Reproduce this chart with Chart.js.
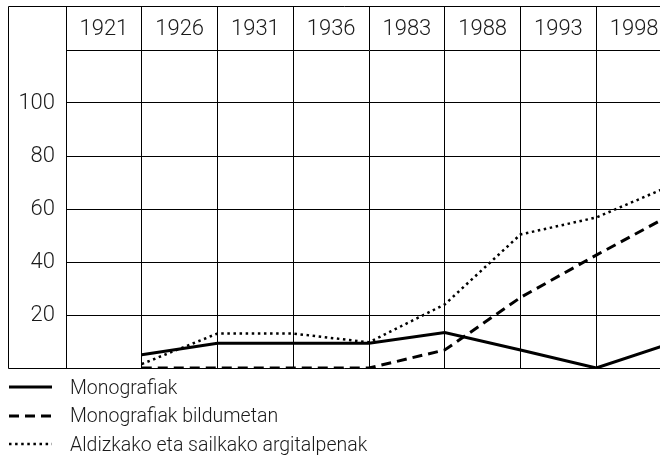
<!DOCTYPE html>
<html lang="eu">
<head>
<meta charset="UTF-8">
<script src="https://cdn.jsdelivr.net/npm/chart.js"></script>
<style>
  html, body { margin: 0; padding: 0; background: #fff; overflow: hidden; }
  #wrap { position: relative; width: 680px; height: 456px; }
  #legend { position: absolute; left: 9px; top: 373px; font-family: Roboto, "Liberation Sans", sans-serif; font-weight: 300; font-size: 19.5px; color: #1a1a1a; }
  .row { display: flex; align-items: center; height: 28.5px; }
</style>
</head>
<body>
<div id="wrap">
  <canvas id="c" width="680" height="456"></canvas>
  <div id="legend"></div>
</div>
<script>
// years shown in the header row
const years = ['1921', '1926', '1931', '1936', '1983', '1988', '1993', '1998'];
// series, one value per year
const monografiak = [5, 9.3, 9.3, 9.3, 13.4, 6.8, 0, 9.5];
const bildumetan = [0, 0, 0, 0, 6.8, 26.6, 42.6, 58];
const aldizkako = [1.5, 13, 13, 9.7, 24, 50.4, 56.8, 69];
const yTicks = [20, 40, 60, 80, 100];

const labelFont = { family: 'Roboto, "Liberation Sans", sans-serif', size: 22, weight: 300 };

// each year's point sits on the right edge of its header cell
function pts(arr) {
  return arr.map((v, i) => ({ x: i + 1, y: v }));
}

const series = [
  { label: 'Monografiak', data: pts(monografiak), dash: [], width: 3 },
  { label: 'Monografiak bildumetan', data: pts(bildumetan), dash: [10, 6], width: 3 },
  { label: 'Aldizkako eta sailkako argitalpenak', data: pts(aldizkako), dash: [2.5, 3.6], width: 2.5 }
];

// outer frame: around the label column and the header row too
const framePlugin = {
  id: 'frame',
  afterDraw(chart) {
    const ctx = chart.ctx;
    const a = chart.chartArea;
    const left = Math.round(chart.scales.y.left) + 0.5;
    const top = Math.round(chart.scales.x.top) + 0.5;
    const bottom = Math.round(a.bottom) + 0.5;
    ctx.save();
    ctx.strokeStyle = '#000';
    ctx.lineWidth = 1;
    ctx.beginPath();
    ctx.moveTo(left, bottom);
    ctx.lineTo(left, top);
    ctx.lineTo(a.right + 10, top);
    ctx.moveTo(left, bottom);
    ctx.lineTo(a.right + 10, bottom);
    ctx.stroke();
    ctx.restore();
  }
};

new Chart(document.getElementById('c').getContext('2d'), {
  type: 'line',
  data: {
    datasets: series.map(s => ({
      label: s.label,
      data: s.data,
      xAxisID: 'xd',
      yAxisID: 'y',
      borderColor: '#000',
      borderWidth: s.width,
      borderDash: s.dash,
      pointRadius: 0,
      tension: 0,
      fill: false
    }))
  },
  options: {
    responsive: false,
    animation: false,
    layout: { padding: { left: 7.5, top: 6, right: 8, bottom: 88 } },
    plugins: { legend: { display: false }, tooltip: { enabled: false } },
    scales: {
      x: {
        type: 'category',
        labels: years,
        position: 'top',
        offset: true,
        grid: { offset: true, color: '#000', lineWidth: 1, tickLength: 44, drawTicks: true },
        border: { display: true, color: '#000', width: 1 },
        ticks: { font: labelFont, color: '#1a1a1a', padding: -37, maxRotation: 0, autoSkip: false },
        afterFit(axis) { axis.height = 44; }
      },
      xd: {
        type: 'linear',
        display: false,
        min: 0,
        max: years.length
      },
      y: {
        type: 'linear',
        min: 0,
        max: 120,
        afterBuildTicks(axis) { axis.ticks = yTicks.map(v => ({ value: v })); },
        grid: { color: '#000', lineWidth: 1, drawTicks: false },
        border: { display: false },
        ticks: { font: labelFont, color: '#1a1a1a', padding: 11 },
        afterFit(axis) { axis.width = 58.5; }
      }
    }
  },
  plugins: [framePlugin]
});

// legend below the plot, one entry per row
const legend = document.getElementById('legend');
series.forEach(s => {
  const row = document.createElement('div');
  row.className = 'row';
  const sw = document.createElement('canvas');
  sw.width = 44; sw.height = 6;
  sw.style.marginRight = '17px';
  const c = sw.getContext('2d');
  c.strokeStyle = '#000';
  c.lineWidth = s.width;
  c.setLineDash(s.dash);
  c.beginPath(); c.moveTo(0, 3); c.lineTo(43, 3); c.stroke();
  const t = document.createElement('span');
  t.textContent = s.label;
  row.appendChild(sw);
  row.appendChild(t);
  legend.appendChild(row);
});
</script>
</body>
</html>
